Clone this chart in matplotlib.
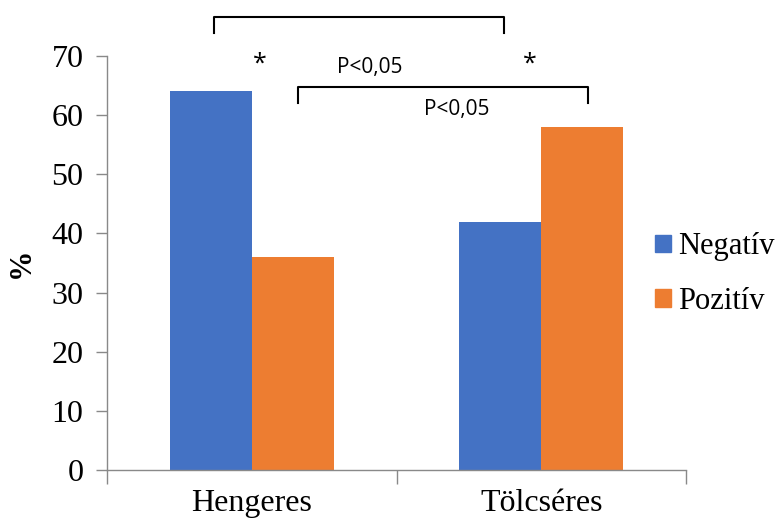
import numpy as np
import matplotlib
matplotlib.use("Agg")
import matplotlib.pyplot as plt
from matplotlib.patches import Patch

# data
categories = ["Hengeres", "Tölcséres"]
series = ["Negatív", "Pozitív"]
negativ = [64, 42]
pozitiv = [36, 58]
colors = ["#4472C4", "#ED7D31"]
yticks = [0, 10, 20, 30, 40, 50, 60, 70]

serif = ["Liberation Serif", "DejaVu Serif"]
sans = ["Open Sans", "DejaVu Sans"]

fig = plt.figure(figsize=(7.84, 5.22), dpi=100)
ax = fig.add_axes([0.1365, 0.0996, 0.7385, 0.7931])

x = np.arange(len(categories))
w = 0.284
ax.bar(x - w / 2, negativ, w, color=colors[0], label=series[0])
ax.bar(x + w / 2, pozitiv, w, color=colors[1], label=series[1])

ax.set_xlim(-0.5, 1.5)
ax.set_ylim(0, 70)
ax.set_yticks(yticks)
ax.set_yticklabels([str(v) for v in yticks], family=serif, fontsize=23)
ax.set_xticks(x)
ax.set_xticklabels(categories, family=serif, fontsize=23)
ax.set_xticks([-0.5, 0.5, 1.5], minor=True)
ax.tick_params(axis="x", which="major", length=0, pad=14)
ax.tick_params(axis="x", which="minor", length=10, color="#898989", width=1)
ax.tick_params(axis="y", length=8, color="#898989", width=1, pad=9)
for s in ["top", "right"]:
    ax.spines[s].set_visible(False)
for s in ["left", "bottom"]:
    ax.spines[s].set_color("#898989")
    ax.spines[s].set_linewidth(1)

ax.set_ylabel("%", family=serif, fontsize=22, fontweight="bold", labelpad=11)

# significance brackets
ax.plot([-0.131, -0.131, 0.872, 0.872], [73.9, 76.6, 76.6, 73.9],
        color="black", lw=1.5, clip_on=False)
ax.plot([0.159, 0.159, 1.162, 1.162], [62.0, 64.8, 64.8, 62.0],
        color="black", lw=1.5, clip_on=False)
ax.text(0.028, 68.6, "*", ha="center", va="center", fontsize=18, family=sans)
ax.text(0.962, 68.6, "*", ha="center", va="center", fontsize=18, family=sans)
ax.text(0.407, 68.0, "P<0,05", ha="center", va="center", fontsize=15, family=sans)
ax.text(0.707, 60.9, "P<0,05", ha="center", va="center", fontsize=15, family=sans)

handles = [Patch(color=c) for c in colors]
fig.legend(handles, series, loc="center left", bbox_to_anchor=(0.836, 0.475),
           frameon=False, prop={"family": serif, "size": 22},
           handlelength=0.5, handleheight=0.5, handletextpad=0.25,
           labelspacing=0.85, borderaxespad=0, borderpad=0)

fig.savefig("out.png", dpi=100)
